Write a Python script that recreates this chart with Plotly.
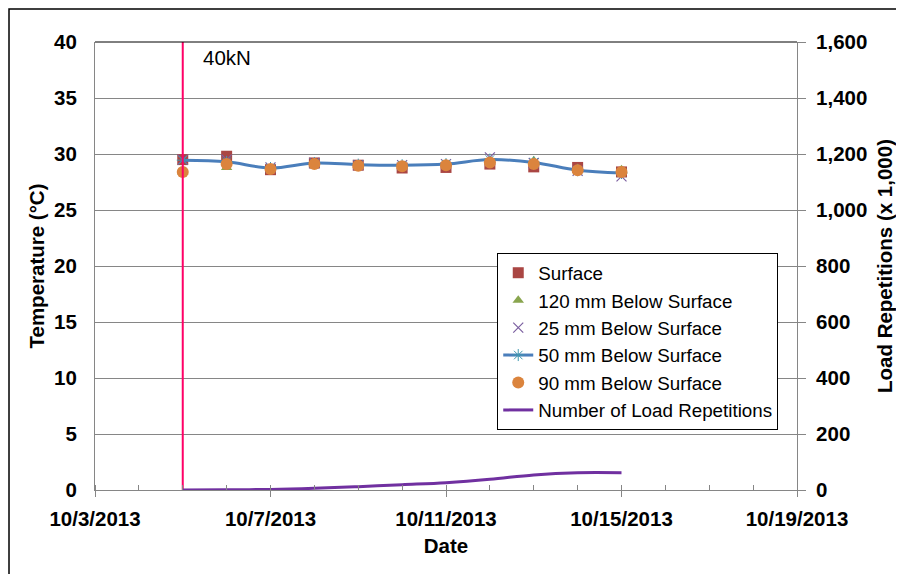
import plotly.graph_objects as go

# dias de medição (10/5 a 10/15/2013)
dates = ['2013-10-05', '2013-10-06', '2013-10-07', '2013-10-08', '2013-10-09', '2013-10-10',
         '2013-10-11', '2013-10-12', '2013-10-13', '2013-10-14', '2013-10-15']

surface = [29.5, 29.8, 28.6, 29.2, 29.0, 28.75, 28.8, 29.1, 28.85, 28.8, 28.4]
below_120 = [28.4, 28.8, 28.7, 29.1, 29.0, 28.9, 29.1, 29.3, 29.4, 28.7, 28.6]
below_25 = [29.5, 29.5, 28.8, 29.2, 29.0, 29.0, 29.1, 29.7, 29.2, 28.5, 28.0]
below_50 = [29.45, 29.3, 28.75, 29.2, 29.05, 29.0, 29.1, 29.5, 29.25, 28.55, 28.3]
below_90 = [28.4, 29.1, 28.65, 29.1, 28.95, 28.9, 29.0, 29.25, 29.1, 28.55, 28.4]
load_reps = [0, 1, 2, 6, 12, 19, 26, 38, 54, 62, 62]  # x 1,000

# linha vertical do início do carregamento de 40kN
load_start_x = ['2013-10-05', '2013-10-05']
load_start_y = [0, 40]

FONT = 'Liberation Sans, Arial, sans-serif'
TICKFONT = dict(family=FONT, size=20.5, weight='bold')

fig = go.Figure()

fig.add_trace(go.Scatter(x=dates, y=surface, mode='markers', name='Surface',
                         marker=dict(symbol='square', size=11, color='#AA4643')))
fig.add_trace(go.Scatter(x=dates, y=below_120, mode='markers', name='120 mm Below Surface',
                         marker=dict(symbol='triangle-up', size=10, color='#89A54E')))
fig.add_trace(go.Scatter(x=dates, y=below_25, mode='markers', name='25 mm Below Surface',
                         marker=dict(symbol='x-thin-open', size=10, color='#7B5FA0',
                                     line=dict(width=1.2, color='#7B5FA0'))))
fig.add_trace(go.Scatter(x=dates, y=below_50, mode='lines+markers', name='50 mm Below Surface',
                         line=dict(color='#4A7EBB', width=3, shape='spline'),
                         marker=dict(symbol='asterisk-open', size=10, color='#4198AF',
                                     line=dict(width=1, color='#4198AF'))))
fig.add_trace(go.Scatter(x=dates, y=below_90, mode='markers', name='90 mm Below Surface',
                         marker=dict(symbol='circle', size=12, color='#DB843D')))
fig.add_trace(go.Scatter(x=dates, y=load_reps, mode='lines', name='Number of Load Repetitions',
                         yaxis='y2', line=dict(color='#7030A0', width=3, shape='spline')))
fig.add_trace(go.Scatter(x=load_start_x, y=load_start_y, mode='lines', showlegend=False,
                         line=dict(color='#FF0066', width=2), hoverinfo='skip'))

# a página tem 8px de margem no body, então a área do gráfico é deslocada aqui
fig.update_layout(
    width=904, height=574,
    margin=dict(l=87, r=115, t=34, b=92, autoexpand=False),
    paper_bgcolor='white', plot_bgcolor='white',
    font=dict(family=FONT, size=20, color='black'),
    showlegend=True,
    legend=dict(x=0.573, y=0.529, xanchor='left', yanchor='top',
                bgcolor='white', bordercolor='black', borderwidth=1,
                font=dict(family=FONT, size=18.8, color='black'),
                tracegroupgap=0),
    xaxis=dict(type='date', range=['2013-10-03', '2013-10-19'], automargin=False,
               tickmode='linear', tick0='2013-10-03', dtick=4 * 86400000,
               tickformat='%-m/%-d/%Y', showgrid=False,
               showline=True, linecolor='#868686', linewidth=1,
               ticks='outside', ticklen=6, tickcolor='#868686', ticklabelstandoff=4,
               tickfont=TICKFONT,
               minor=dict(dtick=86400000, ticks='inside', ticklen=5, tickcolor='#868686'),
               title=dict(text='Date', font=TICKFONT, standoff=10)),
    yaxis=dict(range=[0, 40], dtick=5, showgrid=True, gridcolor='#868686', gridwidth=1,
               automargin=False, showline=True, linecolor='#868686', linewidth=1,
               ticks='', ticklabelstandoff=13, zeroline=False,
               tickfont=TICKFONT,
               title=dict(text='Temperature (°C)', font=TICKFONT, standoff=3)),
    yaxis2=dict(range=[0, 1600], dtick=200, overlaying='y', side='right', showgrid=False,
                automargin=False, showline=True, linecolor='#868686', linewidth=1,
                tickformat=',', ticks='outside', ticklen=8, tickcolor='#868686',
                ticklabelstandoff=6, zeroline=False, tickfont=TICKFONT,
                title=dict(text='Load Repetitions (x 1,000)', font=TICKFONT, standoff=11)),
    shapes=[
        dict(type='line', xref='paper', yref='paper', x0=0, x1=1, y0=1, y1=1,
             line=dict(color='black', width=1)),
        dict(type='rect', xref='paper', yref='paper', x0=-0.1225, x1=1.2, y0=-0.25, y1=1.0737,
             line=dict(color='black', width=1.5)),
    ],
    annotations=[
        dict(text='40kN', x='2013-10-05', y=38.6, xref='x', yref='y', xanchor='left',
             xshift=18, showarrow=False, font=dict(family=FONT, size=20.5, color='black')),
    ],
)

fig.write_html("out.html")
